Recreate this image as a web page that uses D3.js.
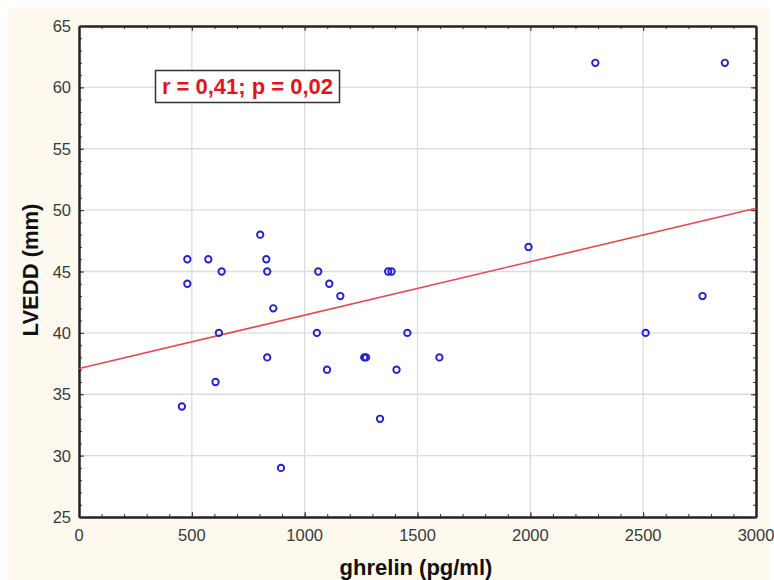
<!DOCTYPE html>
<html>
<head>
<meta charset="utf-8">
<script src="https://cdn.jsdelivr.net/npm/d3@7"></script>
<style>
  body { margin: 0; background: #fff; }
  svg { display: block; }
  .tick-label { font-family: "Liberation Sans", Arial, sans-serif; font-size: 16.5px; fill: #3a3a3a; }
  .axis-title { font-family: "Liberation Sans", Arial, sans-serif; font-size: 22px; font-weight: bold; fill: #111; }
</style>
</head>
<body>
<div id="chart"></div>
<script>
// ghrelin (pg/ml) vs LVEDD (mm)
const ghrelin = [480, 480, 573, 632, 803, 830, 834, 1060, 1109, 1158, 1370, 1385,
                 2288, 2862, 1992, 2763, 861, 620, 1054, 834, 1264, 1272, 1099, 1407,
                 605, 456, 1334, 895, 1455, 1597, 2511];
const lvedd   = [46, 44, 46, 45, 48, 46, 45, 45, 44, 43, 45, 45,
                 62, 62, 47, 43, 42, 40, 40, 38, 38, 38, 37, 37,
                 36, 34, 33, 29, 40, 38, 40];

const x_ticks = [0, 500, 1000, 1500, 2000, 2500, 3000];
const y_ticks = [25, 30, 35, 40, 45, 50, 55, 60, 65];

// fitted line as drawn
const fit_intercept = 37.1;
const fit_slope = 0.00435;

const annotation = "r = 0,41; p = 0,02";

const W = 774, H = 580;
const plot = {left: 79, top: 26, right: 756, bottom: 517};

const svg = d3.select("#chart").append("svg")
  .attr("width", W).attr("height", H);

svg.append("rect")
  .attr("x", 8).attr("y", 8)
  .attr("width", 762).attr("height", H - 8)
  .attr("fill", "#fdf9ef");

const x = d3.scaleLinear().domain([0, 3000]).range([plot.left, plot.right]);
const y = d3.scaleLinear().domain([25, 65]).range([plot.bottom, plot.top]);

svg.append("rect")
  .attr("x", plot.left).attr("y", plot.top)
  .attr("width", plot.right - plot.left).attr("height", plot.bottom - plot.top)
  .attr("fill", "#fff");

// grid
const grid = svg.append("g").attr("stroke", "#dcdcdc").attr("stroke-width", 1.3);
grid.selectAll("line.gx")
  .data(x_ticks.slice(1, -1))
  .join("line")
    .attr("x1", d => x(d)).attr("x2", d => x(d))
    .attr("y1", plot.top).attr("y2", plot.bottom);
grid.selectAll("line.gy")
  .data(y_ticks.slice(1, -1))
  .join("line")
    .attr("y1", d => y(d)).attr("y2", d => y(d))
    .attr("x1", plot.left).attr("x2", plot.right);

// axes: ticks pointing inward on all four sides
const minor_x = d3.range(0, 3001, 100);
const minor_y = d3.range(25, 66, 1);

function frame_axis(axis, pos) {
  const g = svg.append("g")
    .attr("transform", `translate(${pos[0]},${pos[1]})`)
    .call(axis);
  g.selectAll("text").remove();
  g.select(".domain").attr("stroke", "#222").attr("stroke-width", 2);
  g.selectAll(".tick line").attr("stroke", "#333");
  return g;
}

frame_axis(d3.axisTop(x).tickValues(minor_x).tickSize(3).tickSizeOuter(0), [0, plot.bottom]);
frame_axis(d3.axisTop(x).tickValues(x_ticks).tickSize(5).tickSizeOuter(0), [0, plot.bottom]);
frame_axis(d3.axisBottom(x).tickValues(minor_x).tickSize(3).tickSizeOuter(0), [0, plot.top]);
frame_axis(d3.axisBottom(x).tickValues(x_ticks).tickSize(5).tickSizeOuter(0), [0, plot.top]);
frame_axis(d3.axisRight(y).tickValues(minor_y).tickSize(3).tickSizeOuter(0), [plot.left, 0]);
frame_axis(d3.axisRight(y).tickValues(y_ticks).tickSize(5).tickSizeOuter(0), [plot.left, 0]);
frame_axis(d3.axisLeft(y).tickValues(minor_y).tickSize(3).tickSizeOuter(0), [plot.right, 0]);
frame_axis(d3.axisLeft(y).tickValues(y_ticks).tickSize(5).tickSizeOuter(0), [plot.right, 0]);

// tick labels
svg.append("g").selectAll("text")
  .data(x_ticks)
  .join("text")
    .classed("tick-label", true)
    .attr("x", d => x(d))
    .attr("y", plot.bottom + 24)
    .attr("text-anchor", "middle")
    .text(d => d);
svg.append("g").selectAll("text")
  .data(y_ticks)
  .join("text")
    .classed("tick-label", true)
    .attr("x", plot.left - 8)
    .attr("y", d => y(d) + 6)
    .attr("text-anchor", "end")
    .text(d => d);

// titles
svg.append("text")
  .classed("axis-title", true)
  .attr("x", 416).attr("y", 575)
  .attr("text-anchor", "middle")
  .text("ghrelin (pg/ml)");
svg.append("text")
  .classed("axis-title", true)
  .attr("transform", "translate(38,270) rotate(-90)")
  .attr("text-anchor", "middle")
  .text("LVEDD (mm)");

// regression line
const fit = x.domain().map(v => [v, fit_intercept + fit_slope * v]);
svg.append("path")
  .attr("d", d3.line().x(d => x(d[0])).y(d => y(d[1]))(fit))
  .attr("stroke", "#e8474c")
  .attr("stroke-width", 1.6)
  .attr("fill", "none");

// points
svg.append("g").selectAll("circle")
  .data(ghrelin.map((g, i) => [g, lvedd[i]]))
  .join("circle")
    .attr("cx", d => x(d[0]))
    .attr("cy", d => y(d[1]))
    .attr("r", 3.2)
    .attr("fill", "none")
    .attr("stroke", "#2222d4")
    .attr("stroke-width", 1.9);

// annotation box
svg.append("rect")
  .attr("x", 155.5).attr("y", 70.5)
  .attr("width", 184).attr("height", 32)
  .attr("fill", "#fff")
  .attr("stroke", "#333")
  .attr("stroke-width", 1.5);
svg.append("text")
  .attr("x", 247.5).attr("y", 94)
  .attr("text-anchor", "middle")
  .attr("font-family", "Liberation Sans, Arial, sans-serif")
  .attr("font-size", 22)
  .attr("font-weight", "bold")
  .attr("fill", "#e3141c")
  .text(annotation);
</script>
</body>
</html>
